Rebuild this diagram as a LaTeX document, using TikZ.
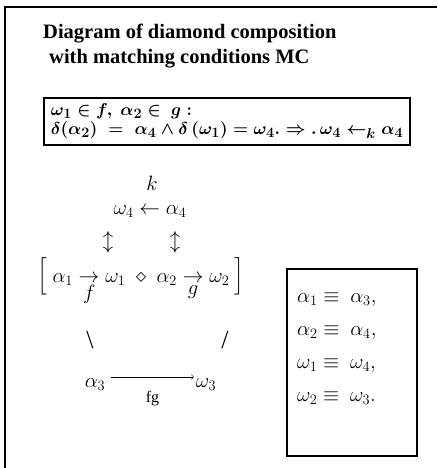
\documentclass[tikz,border=0pt]{standalone}
\usepackage{amsmath}
\usepackage{fontspec}
\setmainfont{Liberation Serif}
\usetikzlibrary{positioning,arrows.meta,calc}

\begin{document}
\begin{tikzpicture}[x=1pt, y=1pt, inner sep=0pt, font=\fontsize{20}{24}\selectfont]
  \tikzstyle{frame}=[draw,line width=2pt]
  \tikzstyle{title}=[anchor=north west,align=left,font=\fontsize{20.5}{25}\selectfont\bfseries]
  \tikzstyle{cond}=[frame,anchor=north west,align=left,minimum width=366pt,minimum height=47pt,inner sep=2pt,font=\fontsize{19}{19}\selectfont\boldmath]
  \tikzstyle{eq}=[anchor=base]
  \tikzstyle{glyph}=[anchor=center,font=\fontsize{26}{28}\selectfont]
  \useasboundingbox (0,0) rectangle (437,-468);
  \draw[line width=2pt] (5,-468) -- (5,-7) -- (437,-7);
  \node[title] (head) at (43,-24) {Diagram of diamond composition\\\hspace*{6pt}with matching conditions MC};
  \node[cond] (cond) at (43,-97) {\mbox{$\omega_1 \in f,\ \alpha_2 \in\ g:$}\\
    \mbox{$\delta(\alpha_2)\;=\;\alpha_4 \wedge \delta\,(\omega_1) = \omega_4.\Rightarrow.\,\omega_4 \leftarrow_k \alpha_4$}};
  \node[eq] (top) at (150,-214) {$\omega_4 \leftarrow \alpha_4$};
  \node[eq] (k) at (152,-190) {$k$};
  \node[glyph,font=\fontsize{20}{24}\selectfont] (ud1) at (108,-242) {$\updownarrow$};
  \node[glyph,font=\fontsize{20}{24}\selectfont] (ud2) at (175,-242) {$\updownarrow$};
  \node[eq,font=\fontsize{21}{25}\selectfont] (comp) at (141,-282) {$\Big[\ \alpha_1 \underset{\textstyle f}{\to} \omega_1 \;\diamond\; \alpha_2 \underset{\textstyle g}{\to} \omega_2\ \Big]$};
  \node[glyph] (bs) at (90,-340) {\textbackslash};
  \node[glyph] (sl) at (225,-340) {/};
  \node[eq] (a3) at (95,-387) {$\alpha_3$};
  \node[eq] (w3) at (206,-387) {$\omega_3$};
  \draw[-{To}] ($(a3.base east)+(6,10)$) -- node[below=14pt,font=\fontsize{16}{18}\selectfont] (fg) {fg} ($(w3.base west)+(-2,10)$);
  \node[frame,anchor=north west,minimum width=130pt,minimum height=187pt] (mcbox) at (286,-268) {};
  \node[anchor=north west,align=left,font=\fontsize{20}{33}\selectfont] (mc) at ($(mcbox.north west)+(11,-25)$) {$\alpha_1 \equiv\ \alpha_3,$\\$\alpha_2 \equiv\ \alpha_4,$\\$\omega_1 \equiv\ \omega_4,$\\$\omega_2 \equiv\ \omega_3.$};
\end{tikzpicture}
\end{document}
